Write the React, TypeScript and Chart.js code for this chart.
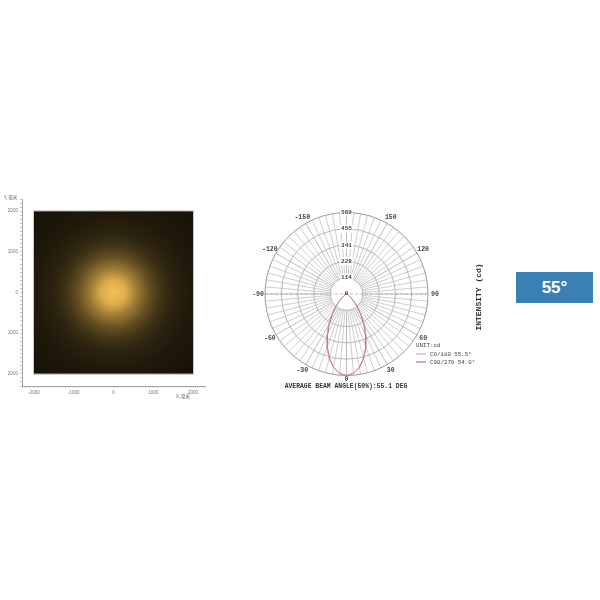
import React, { useEffect, useRef } from 'react';
import { Chart, registerables } from 'chart.js';
Chart.register(...registerables);

// ---------- Polar intensity diagram data ----------
const angleLabels = [
  180, 175, 170, 165, 160, 155, 150, 145, 140, 135, 130, 125,
  120, 115, 110, 105, 100, 95, 90, 85, 80, 75, 70, 65,
  60, 55, 50, 45, 40, 35, 30, 25, 20, 15, 10, 5,
  0, -5, -10, -15, -20, -25, -30, -35, -40, -45, -50, -55,
  -60, -65, -70, -75, -80, -85, -90, -95, -100, -105, -110, -115,
  -120, -125, -130, -135, -140, -145, -150, -155, -160, -165, -170, -175,
];
const ringTicks = [0, 114, 228, 341, 455, 569];
const angleTickLabels = [150, 120, 90, 60, 30, 0, -30, -60, -90, -120, -150];

const beamAngles = [
  70, 65, 60, 55, 50, 45, 40, 35, 30, 25, 20, 15, 10, 5, 0,
  -5, -10, -15, -20, -25, -30, -35, -40, -45, -50, -55, -60, -65, -70,
];
const c0Intensity = [
  1, 4, 11, 24, 46, 80, 126, 184, 252, 326, 400, 467, 522, 557, 569,
  557, 522, 467, 400, 326, 252, 184, 126, 80, 46, 24, 11, 4, 1,
];
const c90Intensity = [
  1, 3, 9, 20, 40, 71, 115, 172, 240, 315, 392, 462, 519, 556, 569,
  556, 519, 462, 392, 315, 240, 172, 115, 71, 40, 20, 9, 3, 1,
];
const seriesNames = ['C0/180 55.5°', 'C90/270 54.0°'];
const seriesColors = ['#dc9a9a', '#8a6464'];
const unitText = 'UNIT:cd';
const captionText = 'AVERAGE BEAM ANGLE(50%):55.1 DEG';
const axisTitle = 'INTENSITY (cd)';

// ---------- Illuminance map data ----------
const mapTicks = [-2000, -1000, 0, 1000, 2000];
const mapExtent = [-2000, 2000];
const glowRadius = [0, 300, 600, 900, 1200, 1500, 2000, 2900];
const glowLevel = [1, 0.9, 0.63, 0.41, 0.26, 0.18, 0.125, 0.085];
const glowBase = [245, 192, 84];
const mapXTitle = 'X, 毫米';
const mapYTitle = 'Y, 毫米';

const badgeText = '55°';

const MONO = '"Liberation Mono", "DejaVu Sans Mono", monospace';

function alignData(values: number[]) {
  return angleLabels.map((a) => {
    const k = beamAngles.indexOf(a);
    return k >= 0 ? values[k] : 0;
  });
}

// Polar layout (canvas-local)
const P_LEFT = 245;
const P_TOP = 200;
const P_W = 245;
const P_H = 195;
const CX = 101.5;
const CY = 94;
const RADIUS = 81.5;

const polarPlugin = {
  id: 'polarDecor',
  afterLayout(chart: any) {
    const s = chart.scales.r;
    s.xCenter = CX;
    s.yCenter = CY;
    s.drawingArea = RADIUS;
  },
  beforeDatasetsDraw(chart: any) {
    const s = chart.scales.r;
    const ctx = chart.ctx;
    ctx.save();
    const r0 = s.getDistanceFromCenterForValue(ringTicks[1]);
    const r1 = s.drawingArea;
    for (let i = 0; i < angleLabels.length; i++) {
      const p0 = s.getPointPosition(i, r0);
      const p1 = s.getPointPosition(i, r1);
      ctx.beginPath();
      ctx.strokeStyle = angleLabels[i] % 30 === 0 ? '#a0a0a0' : '#b8b8b8';
      ctx.lineWidth = 0.7;
      ctx.moveTo(p0.x, p0.y);
      ctx.lineTo(p1.x, p1.y);
      ctx.stroke();
    }
    // dashed horizontal (90 / -90) through the centre
    const a = s.getPointPosition(angleLabels.indexOf(90), r1);
    const b = s.getPointPosition(angleLabels.indexOf(-90), r1);
    ctx.beginPath();
    ctx.setLineDash([3, 2]);
    ctx.strokeStyle = '#a0a0a0';
    ctx.moveTo(a.x, a.y);
    ctx.lineTo(b.x, b.y);
    ctx.stroke();
    ctx.restore();
  },
  afterDraw(chart: any) {
    const s = chart.scales.r;
    const ctx = chart.ctx;
    ctx.save();
    ctx.fillStyle = '#444';
    ctx.textAlign = 'center';
    ctx.textBaseline = 'middle';
    // centre tick
    ctx.font = `bold 6px ${MONO}`;
    ctx.fillText(String(ringTicks[0]), s.xCenter, s.yCenter - 1);
    // angle labels
    ctx.font = `bold 6.5px ${MONO}`;
    angleTickLabels.forEach((v) => {
      const idx = angleLabels.indexOf(v);
      const off = v === 0 ? 4 : 7;
      const p = s.getPointPosition(idx, s.drawingArea + off);
      ctx.fillText(String(v), p.x, p.y);
    });
    // legend
    ctx.textAlign = 'left';
    ctx.font = `5.8px ${MONO}`;
    ctx.fillText(unitText, 171, 145);
    chart.data.datasets.forEach((ds: any, k: number) => {
      const y = 154 + k * 8;
      ctx.beginPath();
      ctx.strokeStyle = ds.borderColor;
      ctx.lineWidth = 1;
      ctx.moveTo(171, y);
      ctx.lineTo(181, y);
      ctx.stroke();
      ctx.fillText(ds.label, 185, y);
    });
    // caption
    ctx.textAlign = 'center';
    ctx.font = `bold 6.4px ${MONO}`;
    ctx.fillStyle = '#333';
    ctx.fillText(captionText, 101, 186);
    // vertical axis title
    ctx.translate(234, 97);
    ctx.rotate(-Math.PI / 2);
    ctx.font = `bold 8px ${MONO}`;
    ctx.fillText(axisTitle, 0, 0);
    ctx.restore();
  },
};

const mapPlugin = {
  id: 'mapGlow',
  beforeDatasetsDraw(chart: any) {
    const { ctx, scales } = chart;
    const xs = scales.x;
    const ys = scales.y;
    const x0 = xs.getPixelForValue(mapExtent[0]);
    const x1 = xs.getPixelForValue(mapExtent[1]);
    const y0 = ys.getPixelForValue(mapExtent[1]);
    const y1 = ys.getPixelForValue(mapExtent[0]);
    const cx = xs.getPixelForValue(0);
    const cy = ys.getPixelForValue(0);
    const rMax = Math.abs(xs.getPixelForValue(glowRadius[glowRadius.length - 1]) - cx);
    const g = ctx.createRadialGradient(cx, cy, 0, cx, cy, rMax);
    glowRadius.forEach((r, i) => {
      const px = Math.abs(xs.getPixelForValue(r) - cx);
      const l = glowLevel[i];
      g.addColorStop(px / rMax, `rgb(${Math.round(glowBase[0] * l)},${Math.round(glowBase[1] * l)},${Math.round(glowBase[2] * l)})`);
    });
    ctx.save();
    ctx.fillStyle = g;
    ctx.fillRect(x0, y0, x1 - x0, y1 - y0);
    ctx.strokeStyle = '#c8c8c8';
    ctx.lineWidth = 1;
    ctx.strokeRect(x0 - 0.5, y0 - 0.5, x1 - x0 + 1, y1 - y0 + 1);
    ctx.restore();
  },
  afterDraw(chart: any) {
    const ctx = chart.ctx;
    ctx.save();
    ctx.fillStyle = '#666';
    ctx.font = '4.6px "Noto Sans CJK SC", sans-serif';
    ctx.textBaseline = 'middle';
    ctx.textAlign = 'left';
    ctx.fillText(mapYTitle, 4, 12);
    ctx.fillText(mapXTitle, 176, 211);
    ctx.restore();
  },
};

function tickCb(v: any) {
  return mapTicks.includes(Number(v)) ? String(v) : '';
}

export default function App() {
  const mapRef = useRef<HTMLCanvasElement>(null);
  const polarRef = useRef<HTMLCanvasElement>(null);

  useEffect(() => {
    const axisCommon = {
      type: 'linear' as const,
      min: -2300,
      max: 2300,
      ticks: {
        stepSize: 100,
        autoSkip: false,
        maxRotation: 0,
        padding: 2,
        color: '#777',
        font: { size: 4.6, family: '"Liberation Sans", sans-serif' },
        callback: tickCb,
      },
      grid: { display: true, drawOnChartArea: false, drawTicks: true, tickLength: 2, color: '#aaa', lineWidth: 0.6 },
      border: { display: true, color: '#888', width: 0.8 },
    };
    const mapChart = new Chart(mapRef.current!, {
      type: 'scatter',
      data: { datasets: [{ data: [], pointRadius: 0 }] },
      options: {
        animation: false,
        responsive: false,
        maintainAspectRatio: false,
        layout: { padding: { left: 8, top: 14, right: 10, bottom: 7 } },
        plugins: { legend: { display: false }, tooltip: { enabled: false } },
        scales: {
          x: { ...axisCommon, position: 'bottom', afterFit: (s: any) => { s.height = 12; } },
          y: { ...axisCommon, position: 'left', afterFit: (s: any) => { s.width = 14; } },
        },
      } as any,
      plugins: [mapPlugin],
    });

    const polarChart = new Chart(polarRef.current!, {
      type: 'radar',
      data: {
        labels: angleLabels.map(String),
        datasets: [
          { label: seriesNames[0], data: alignData(c0Intensity), borderColor: seriesColors[0], borderWidth: 1, pointRadius: 0, fill: false },
          { label: seriesNames[1], data: alignData(c90Intensity), borderColor: seriesColors[1], borderWidth: 1, pointRadius: 0, fill: false },
        ],
      },
      options: {
        animation: false,
        responsive: false,
        maintainAspectRatio: false,
        plugins: { legend: { display: false }, tooltip: { enabled: false } },
        scales: {
          r: {
            min: 0,
            max: 569,
            afterBuildTicks: (s: any) => { s.ticks = ringTicks.map((v) => ({ value: v })); },
            ticks: {
              z: 1,
              color: '#444',
              font: { size: 6, family: MONO, weight: 'bold' },
              backdropColor: '#ffffff',
              backdropPadding: 1,
              showLabelBackdrop: true,
            },
            grid: {
              circular: true,
              color: (c: any) => (c.index === ringTicks.length - 1 ? '#7c7c7c' : '#a4a4a4'),
              lineWidth: 0.8,
            },
            angleLines: { display: false },
            pointLabels: { display: false },
          },
        },
      } as any,
      plugins: [polarPlugin],
    });

    return () => {
      mapChart.destroy();
      polarChart.destroy();
    };
  }, []);

  return (
    <div style={{ position: 'absolute', left: 0, top: 0, width: 600, height: 600, background: '#fff' }}>
      <canvas ref={mapRef} width={215} height={220} style={{ position: 'absolute', left: 0, top: 185 }} />
      <canvas ref={polarRef} width={P_W} height={P_H} style={{ position: 'absolute', left: P_LEFT, top: P_TOP }} />
      <div
        style={{
          position: 'absolute',
          left: 516,
          top: 272,
          width: 77,
          height: 31,
          background: '#3a80b2',
          color: '#fff',
          font: 'bold 17px "Liberation Sans", Arial, sans-serif',
          display: 'flex',
          alignItems: 'center',
          justifyContent: 'center',
        }}
      >
        {badgeText}
      </div>
    </div>
  );
}
